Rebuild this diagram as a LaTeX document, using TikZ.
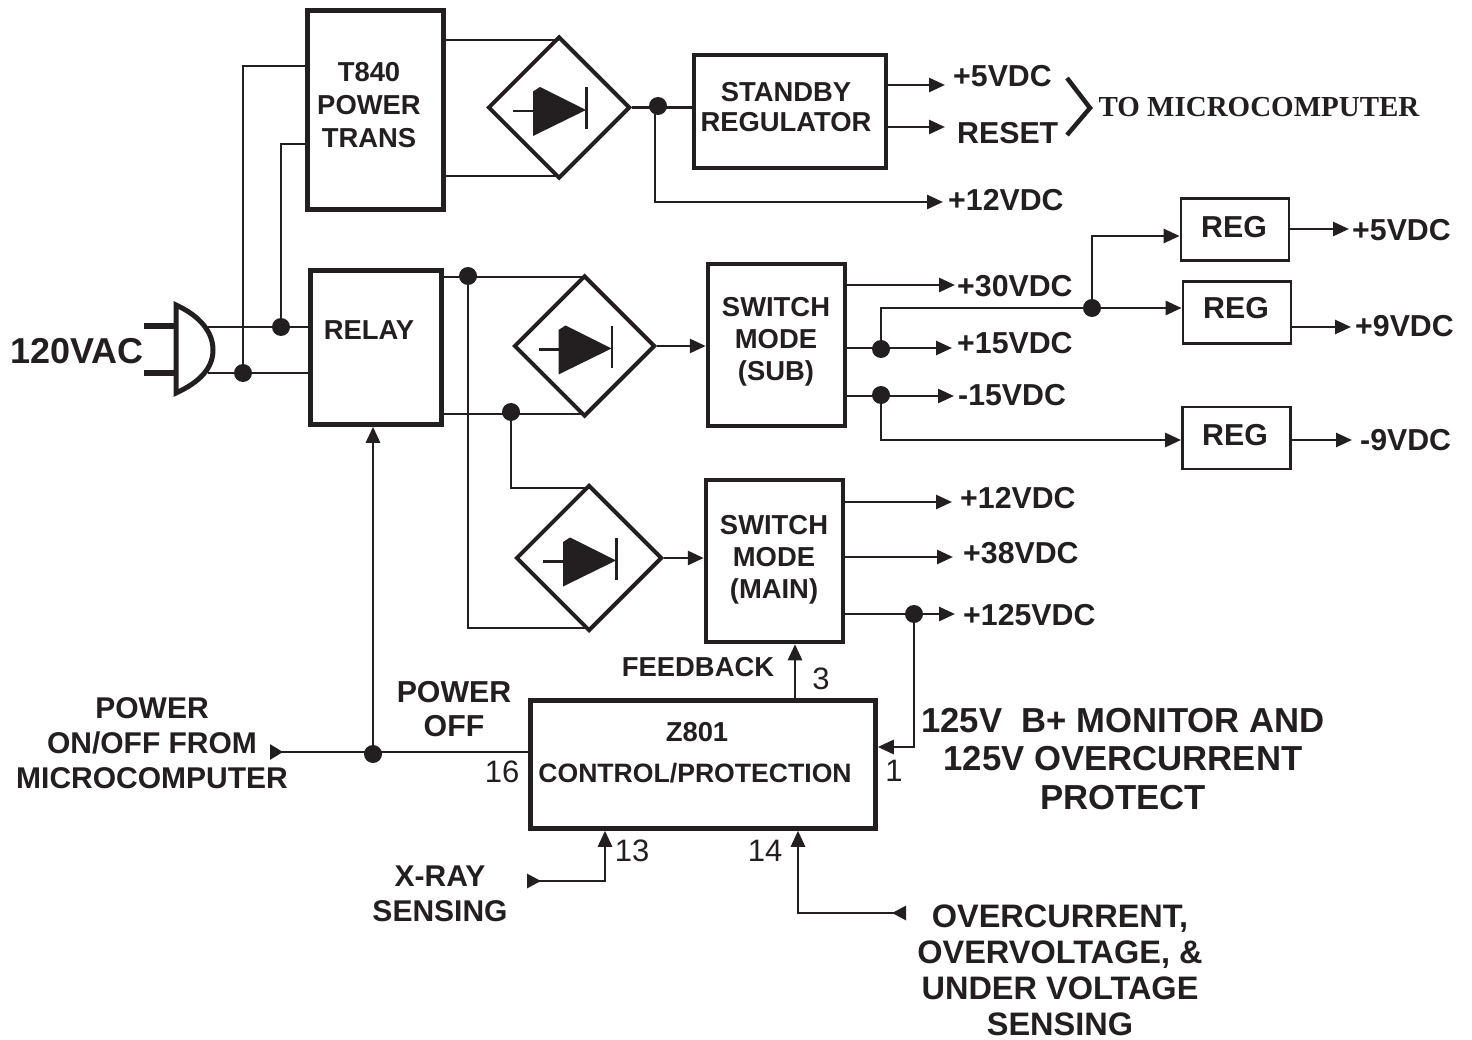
\documentclass[tikz,border=0pt]{standalone}
\usepackage{xcolor}
\usepackage{fontspec}
\setmainfont{Liberation Sans}
\newfontfamily\headserif{Liberation Serif}
\usepackage{tikz}
\usetikzlibrary{arrows.meta,positioning,shapes.geometric}
\definecolor{ink}{HTML}{231F20}

\begin{document}
\begin{tikzpicture}[
x=1pt, y=-1pt, color=ink,
blockbox/.style={draw, line width=4.5pt, inner sep=0pt},
regbox/.style={draw, line width=2.8pt, inner sep=0pt, minimum width=108pt, minimum height=62pt},
bridge/.style={draw, diamond, aspect=1, line width=4pt, inner sep=0pt,
path picture={\begin{scope}[shift={(path picture bounding box.center)}]
\fill (-26,-16) -- (-19,-20.5) -- (27,2.5) -- (-26,28.5) -- cycle;
\draw[line width=2.8pt] (27.5,-20) -- (27.5,22);
\draw[line width=2.8pt] (-46,3.5) -- (-26,3.5);
\end{scope}}},
junction/.style={circle, fill=ink, minimum size=18pt, inner sep=0pt},
wire/.style={line width=2.8pt},
sigarrow/.style={-{Triangle[length=16pt,width=14pt]}, line width=2.8pt},
feedarrow/.style={{Triangle[reversed,length=14pt,width=14pt]}-{Triangle[length=16pt,width=14pt]}, line width=2.8pt},
boxtext/.style={font=\bfseries\fontsize{27.4}{33}\selectfont, align=center, inner sep=0pt},
outlabel/.style={font=\bfseries\fontsize{30.3}{34}\selectfont, align=center, inner sep=0pt},
pinlabel/.style={font=\fontsize{31}{34}\selectfont, inner sep=0pt},
notelabel/.style={font=\bfseries\fontsize{34.7}{38.5}\selectfont, align=center, inner sep=0pt}
]
\useasboundingbox (0,0) rectangle (1472,1040);

% blocks
\node[blockbox, minimum width=136pt, minimum height=199pt] (t840) at (375.5,110) {};
\node[blockbox, minimum width=131pt, minimum height=154pt] (relay) at (376,347.5) {};
\node[blockbox, minimum width=192pt, minimum height=113pt] (standby) at (790,111.5) {};
\node[blockbox, minimum width=137pt, minimum height=162pt] (swsub) at (776.5,345) {};
\node[blockbox, minimum width=137pt, minimum height=162pt] (swmain) at (774.5,561) {};
\node[blockbox, minimum width=345pt, minimum height=128pt] (z801) at (703,764.5) {};
\node[regbox] (rega) at (1235,229.5) {};
\node[regbox] (regb) at (1237,312.5) {};
\node[regbox] (regc) at (1236.5,438) {};
\node[bridge, minimum size=142pt] (bridgea) at (559,107.5) {};
\node[bridge, minimum size=141pt] (bridgeb) at (584.5,346) {};
\node[bridge, minimum size=146pt] (bridgec) at (589,558) {};

% block texts
\node[boxtext] (t840text) at (369,105) {T840\\POWER\\TRANS};
\node[boxtext] (relaytext) at (369,330) {RELAY};
\node[boxtext, font=\bfseries\fontsize{27.4}{30}\selectfont] (standbytext) at (786,107) {STANDBY\\REGULATOR};
\node[boxtext, font=\bfseries\fontsize{27.4}{32}\selectfont] (swsubtext) at (776,342) {SWITCH\\MODE\\(SUB)};
\node[boxtext, font=\bfseries\fontsize{27.4}{32}\selectfont] (swmaintext) at (774,560) {SWITCH\\MODE\\(MAIN)};
\node[boxtext] (z801text) at (697,732) {Z801};
\node[boxtext, font=\bfseries\fontsize{26.6}{30}\selectfont] (controltext) at (695,773) {CONTROL/PROTECTION};
\node[outlabel] (regatext) at (1234,227) {REG};
\node[outlabel] (regbtext) at (1236,308) {REG};
\node[outlabel] (regctext) at (1235,435) {REG};

% junctions and free ends
\node[junction] (dotupper) at (281,327) {};
\node[junction] (dotlower) at (243,373) {};
\node[junction] (dotrect) at (658,106) {};
\node[junction] (dotrelaya) at (468,276) {};
\node[junction] (dotrelayb) at (511,412) {};
\node[junction] (dotpower) at (373,754) {};
\node[junction] (dotmon) at (914,614) {};
\node[junction] (dotfifteen) at (881,349) {};
\node[junction] (dotminus) at (881,395) {};
\node[junction] (dotreg) at (1092,308) {};
\coordinate (plugtop) at (208,327);
\coordinate (plugbot) at (208,373);
\coordinate (tipfive) at (945,85);
\coordinate (tipreset) at (945,127);
\coordinate (tiptwelve) at (943,202);
\coordinate (tipthirty) at (955,285);
\coordinate (tipfifteen) at (952,348);
\coordinate (tipminus) at (954,396);
\coordinate (tipmaina) at (952,502);
\coordinate (tipmainb) at (953,557);
\coordinate (tipmainc) at (955,614);
\coordinate (tiprega) at (1349,229);
\coordinate (tipregb) at (1351,327);
\coordinate (tipregc) at (1352,440);
\coordinate (powerin) at (270,752);
\coordinate (xrayin) at (527,881);
\coordinate (overin) at (906,913);

% plug
\draw[line width=5pt] (176,305) -- (176,393) .. controls (200,382) and (213,368) .. (213,350) .. controls (213,332) and (200,316) .. (176,305) -- cycle;
\draw[line width=6pt] (144,326) -- (175,326);
\draw[line width=6pt] (144,373) -- (175,373);

% output labels
\node[outlabel, right=8pt of tipfive, yshift=9pt] (labfive) {+5VDC};
\node[outlabel, right=12pt of tipreset, yshift=-6pt] (labreset) {RESET};
\node[outlabel, right=5pt of tiptwelve, yshift=2pt] (labtwelve) {+12VDC};
\node[outlabel, right=2pt of tipthirty, yshift=-1pt] (labthirty) {+30VDC};
\node[outlabel, right=5pt of tipfifteen, yshift=5pt] (labfifteen) {+15VDC};
\node[outlabel, right=4pt of tipminus, yshift=1pt] (labminus) {-15VDC};
\node[outlabel, right=8pt of tipmaina, yshift=4pt] (labmaina) {+12VDC};
\node[outlabel, right=10pt of tipmainb, yshift=4pt] (labmainb) {+38VDC};
\node[outlabel, right=8pt of tipmainc, yshift=-1pt] (labmainc) {+125VDC};
\node[outlabel, right=3pt of tiprega, yshift=-1pt] (labrega) {+5VDC};
\node[outlabel, right=4pt of tipregb, yshift=1pt] (labregb) {+9VDC};
\node[outlabel, right=8pt of tipregc] (labregc) {-9VDC};
\draw[line width=4.5pt] (1067,78) -- (1090,108) -- (1067,135);
\node[inner sep=0pt, font=\headserif\bfseries\fontsize{29}{32}\selectfont] (tomicro) at (1259,107) {TO MICROCOMPUTER};

% other labels
\node[inner sep=0pt, font=\bfseries\fontsize{36}{40}\selectfont] (mains) at (77,351) {120VAC};
\node[outlabel, font=\bfseries\fontsize{30}{35}\selectfont] (powerlabel) at (152,743) {POWER\\ON/OFF FROM\\MICROCOMPUTER};
\node[outlabel] (offlabel) at (454,709) {POWER\\OFF};
\node[boxtext] (feedback) at (698,667) {FEEDBACK};
\node[outlabel, font=\bfseries\fontsize{30}{35}\selectfont] (xray) at (440,894) {X-RAY\\SENSING};
\node[notelabel] (monitor) at (1123,759) {125V\ \ B+ MONITOR AND\\125V OVERCURRENT\\PROTECT};
\node[notelabel, font=\bfseries\fontsize{32.5}{36}\selectfont] (sensing) at (1060,970) {OVERCURRENT,\\OVERVOLTAGE, \&\\UNDER VOLTAGE\\SENSING};
\node[pinlabel] (pinsixteen) at (502,772) {16};
\node[pinlabel] (pinthree) at (821,679) {3};
\node[pinlabel] (pinone) at (894,771) {1};
\node[pinlabel] (pinthirteen) at (632,851) {13};
\node[pinlabel] (pinfourteen) at (765,851) {14};

% connectors
\draw[wire] (plugtop) -- (relay.west |- plugtop);
\draw[wire] (plugbot) -- (relay.west |- plugbot);
\draw[wire] (t840.west |- 0,66) -| (dotlower);
\draw[wire] (t840.west |- 0,144) -| (dotupper);
\draw[wire] (t840.east |- 0,40) -- (bridgea.north |- 0,40);
\draw[wire] (t840.east |- 0,176) -- (bridgea.south |- 0,176);
\draw[wire] (bridgea.east) -- (standby.west |- bridgea.east);
\draw[sigarrow] (dotrect.center -| 655,0) |- (tiptwelve);
\draw[sigarrow] (standby.east |- tipfive) -- (tipfive);
\draw[sigarrow] (standby.east |- tipreset) -- (tipreset);
\draw[wire] (relay.east |- 0,277) -- (bridgeb.north |- 0,277);
\draw[wire] (relay.east |- 0,414) -- (bridgeb.south |- 0,414);
\draw[wire] (dotrelaya.center) |- (bridgec.south |- 0,628);
\draw[wire] (dotrelayb.center) |- (bridgec.north |- 0,488);
\draw[sigarrow] (bridgeb.east) -- (swsub.west |- bridgeb.east);
\draw[sigarrow] (bridgec.east) -- (swmain.west |- bridgec.east);
\draw[sigarrow] (swsub.east |- tipthirty) -- (tipthirty);
\draw[sigarrow] (swsub.east |- tipfifteen) -- (tipfifteen);
\draw[sigarrow] (swsub.east |- tipminus) -- (tipminus);
\draw[wire] (dotfifteen.center) |- (dotreg.center);
\draw[sigarrow] (dotreg.center) -- (regb.west |- dotreg);
\draw[sigarrow] (dotreg.center) |- (rega.west |- 0,236);
\draw[sigarrow] (dotminus.center) |- (regc.west |- tipregc);
\draw[sigarrow] (rega.east |- tiprega) -- (tiprega);
\draw[sigarrow] (regb.east |- tipregb) -- (tipregb);
\draw[sigarrow] (regc.east |- tipregc) -- (tipregc);
\draw[sigarrow] (swmain.east |- tipmaina) -- (tipmaina);
\draw[sigarrow] (swmain.east |- tipmainb) -- (tipmainb);
\draw[sigarrow] (swmain.east |- tipmainc) -- (tipmainc);
\draw[sigarrow] (dotmon.center) |- (z801.east |- 0,747);
\draw[sigarrow] (z801.north -| 795,0) -- (swmain.south -| 795,0);
\draw[{Triangle[reversed,length=13pt,width=15pt]}-, wire] (powerin) -- (z801.west |- powerin);
\draw[sigarrow] (dotpower.center) -- (dotpower |- relay.south);
\draw[feedarrow] (xrayin) -| (z801.south -| 605,0);
\draw[feedarrow] (overin) -| (z801.south -| 798,0);
\end{tikzpicture}
\end{document}
